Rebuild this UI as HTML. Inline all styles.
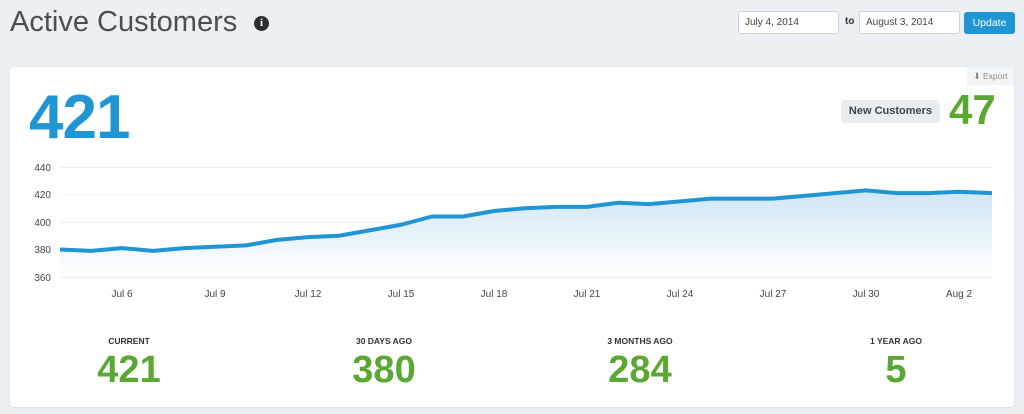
<!DOCTYPE html>
<html><head><meta charset="utf-8"><style>
*{margin:0;padding:0;box-sizing:border-box}
body{width:1024px;height:414px;background:#ebf0f4;font-family:"Liberation Sans",sans-serif;position:relative;overflow:hidden}
.abs{position:absolute}
.title{left:10px;top:6px;font-size:29px;color:#4a4f54;font-weight:normal}
.info{left:254px;top:16px;width:15px;height:15px;border-radius:50%;background:#2a2f33;color:#fff;font-size:11px;font-weight:bold;text-align:center;line-height:15px;font-family:"Liberation Serif",serif}
.inp{top:11px;height:23px;background:#fff;border:1px solid #cfd4d8;border-radius:3px;font-size:10px;color:#444;padding:5px 6px}
.btn{left:964px;top:12px;width:51px;height:22px;background:#1f95d3;border-radius:3px;color:#fff;font-size:10.5px;text-align:center;line-height:22px}
.card{left:10px;top:67px;width:1004px;height:340px;background:#fff;border-radius:4px;box-shadow:0 1px 2px rgba(0,0,0,.08)}
.big{left:29px;top:82px;font-size:62px;font-weight:bold;color:#1f95d3;letter-spacing:-1px}
.exp{left:967px;top:67px;width:47px;height:18px;background:#f2f4f5;font-size:8.5px;color:#888;text-align:center;line-height:18px}
.nc{left:841px;top:100px;width:99px;height:23px;background:#e9edf0;border-radius:4px;font-size:11px;font-weight:bold;color:#444;text-align:center;line-height:23px}
.n47{left:949px;top:86px;font-size:42px;font-weight:bold;color:#5aa832}
.lab{font-size:8.5px;font-weight:bold;color:#333;text-align:center;width:200px;top:336px}
.val{font-size:38px;font-weight:bold;color:#5aa832;text-align:center;width:200px;top:349px}
</style></head><body>
<div class="abs title">Active Customers</div>
<div class="abs info">i</div>
<div class="abs inp" style="left:738px;width:101px">July 4, 2014</div>
<div class="abs" style="left:845px;top:16px;font-size:10px;font-weight:bold;color:#333">to</div>
<div class="abs inp" style="left:859px;width:101px">August 3, 2014</div>
<div class="abs btn">Update</div>
<div class="abs card"></div>
<div class="abs exp">⬇ Export</div>
<div class="abs big">421</div>
<div class="abs nc">New Customers</div>
<div class="abs n47">47</div>
<svg class="abs" style="left:0;top:0" width="1024" height="414">
<defs><linearGradient id="g" x1="0" y1="0" x2="0" y2="1"><stop offset="0" stop-color="#cfe6f5"/><stop offset="1" stop-color="#ffffff"/></linearGradient></defs>
<g stroke="#eceff1" stroke-width="1">
<line x1="60" y1="167.5" x2="992" y2="167.5"/><line x1="60" y1="195" x2="992" y2="195"/><line x1="60" y1="222.5" x2="992" y2="222.5"/><line x1="60" y1="250" x2="992" y2="250"/><line x1="60" y1="277.5" x2="992" y2="277.5"/>
</g>
<g font-size="10" fill="#444" text-anchor="end">
<text x="51" y="171">440</text><text x="51" y="198">420</text><text x="51" y="226">400</text><text x="51" y="253">380</text><text x="51" y="281">360</text>
</g>
<g font-size="10" fill="#444" text-anchor="middle">
<text x="122" y="297">Jul 6</text><text x="215" y="297">Jul 9</text><text x="308" y="297">Jul 12</text><text x="401" y="297">Jul 15</text><text x="494" y="297">Jul 18</text><text x="587" y="297">Jul 21</text><text x="680" y="297">Jul 24</text><text x="773" y="297">Jul 27</text><text x="866" y="297">Jul 30</text><text x="959" y="297">Aug 2</text>
</g>
<polygon fill="url(#g)" points="60,277 60,249.5 91,250.9 122,248.1 153,250.9 184,248.1 215,246.75 246,245.4 277,239.9 308,237.1 339,235.75 370,230.25 401,224.75 432,216.5 463,216.5 494,211 525,208.25 556,206.9 587,206.9 618,202.75 649,204.1 680,201.4 711,198.6 742,198.6 773,198.6 804,195.9 835,193.1 866,190.4 897,193.1 928,193.1 959,191.75 992,193.1 992,277"/>
<polyline fill="none" stroke="#1f95d3" stroke-width="4" stroke-linejoin="round" points="60,249.5 91,250.9 122,248.1 153,250.9 184,248.1 215,246.75 246,245.4 277,239.9 308,237.1 339,235.75 370,230.25 401,224.75 432,216.5 463,216.5 494,211 525,208.25 556,206.9 587,206.9 618,202.75 649,204.1 680,201.4 711,198.6 742,198.6 773,198.6 804,195.9 835,193.1 866,190.4 897,193.1 928,193.1 959,191.75 992,193.1"/>
</svg>
<div class="abs lab" style="left:29px">CURRENT</div>
<div class="abs val" style="left:29px">421</div>
<div class="abs lab" style="left:284px">30 DAYS AGO</div>
<div class="abs val" style="left:284px">380</div>
<div class="abs lab" style="left:540px">3 MONTHS AGO</div>
<div class="abs val" style="left:540px">284</div>
<div class="abs lab" style="left:796px">1 YEAR AGO</div>
<div class="abs val" style="left:796px">5</div>
</body></html>
